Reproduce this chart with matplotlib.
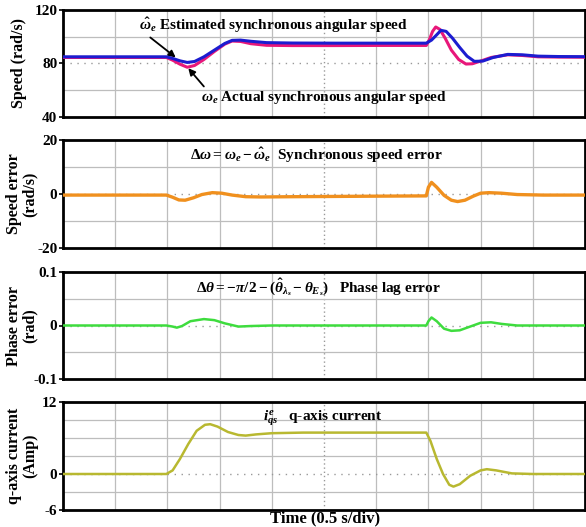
import matplotlib
matplotlib.use("Agg")
import matplotlib.pyplot as plt
import numpy as np

plt.rcParams['font.family'] = ['Liberation Serif', 'DejaVu Serif']
plt.rcParams['font.weight'] = 'bold'
plt.rcParams['mathtext.fontset'] = 'custom'
plt.rcParams['mathtext.rm'] = 'Liberation Serif:bold'
plt.rcParams['mathtext.it'] = 'Liberation Serif:italic:bold'
plt.rcParams['mathtext.bf'] = 'Liberation Serif:bold'

# ---- data (time in s, 0.5 s/div) ----
t_est = [0, 0.99, 1.05, 1.12, 1.19, 1.26, 1.35, 1.45, 1.55, 1.62, 1.70, 1.80, 1.95, 2.2, 2.6, 3.0,
         3.48, 3.53, 3.58, 3.62, 3.67, 3.73, 3.80, 3.87, 3.94, 4.02, 4.12, 4.26, 4.40, 4.55, 4.75, 5.0]
w_est = [85, 85, 83.8, 82, 80.8, 81.5, 85, 90, 95, 97.3, 97.5, 96.6, 95.6, 95.3, 95.2, 95.2,
         95.2, 97.5, 101.5, 104.8, 104, 99, 92, 85.5, 81.6, 81.8, 84.5, 86.8, 86.5, 85.5, 85.2, 85.1]

t_act = [0, 0.99, 1.05, 1.12, 1.19, 1.26, 1.35, 1.45, 1.55, 1.62, 1.70, 1.80, 1.95, 2.2, 2.6, 3.0,
         3.48, 3.51, 3.54, 3.57, 3.61, 3.66, 3.72, 3.79, 3.86, 3.92, 4.0, 4.1, 4.26, 4.40, 4.55, 4.75, 5.0]
w_act = [84.5, 84.5, 82.5, 79.5, 77.2, 78.5, 83, 89, 94.5, 96.8, 96.5, 94.8, 93.6, 93.4, 93.4, 93.5,
         93.5, 98, 104, 107.3, 105.5, 99, 90, 83, 79.6, 79.8, 81.8, 84.5, 86.5, 86, 85, 84.8, 84.7]

t_dw = [0, 0.99, 1.05, 1.11, 1.17, 1.25, 1.33, 1.43, 1.52, 1.62, 1.75, 1.9, 2.2, 2.6, 3.0,
        3.48, 3.50, 3.53, 3.58, 3.65, 3.72, 3.78, 3.85, 3.93, 4.0, 4.08, 4.2, 4.35, 4.6, 5.0]
dw = [-0.4, -0.4, -1.2, -2.2, -2.3, -1.4, -0.2, 0.5, 0.3, -0.4, -1.0, -1.1, -1.0, -0.9, -0.8,
      -0.7, 2.5, 4.3, 2.5, -0.5, -2.3, -2.8, -2.3, -0.8, 0.3, 0.5, 0.3, -0.2, -0.4, -0.4]

t_dth = [0, 0.99, 1.05, 1.09, 1.14, 1.22, 1.35, 1.45, 1.55, 1.68, 1.8, 2.0, 2.5, 3.0,
         3.48, 3.50, 3.53, 3.58, 3.65, 3.72, 3.80, 3.9, 4.0, 4.1, 4.2, 4.35, 4.6, 5.0]
dth = [0, 0, -0.002, -0.004, -0.001, 0.008, 0.012, 0.010, 0.004, -0.002, -0.001, 0, 0, 0,
       0, 0.008, 0.015, 0.008, -0.006, -0.010, -0.009, -0.002, 0.005, 0.006, 0.003, 0, 0, 0]

t_iq = [0, 0.99, 1.05, 1.12, 1.2, 1.28, 1.36, 1.41, 1.48, 1.58, 1.68, 1.75, 1.85, 2.0, 2.3, 3.0,
        3.48, 3.52, 3.58, 3.64, 3.70, 3.74, 3.80, 3.90, 4.0, 4.06, 4.15, 4.3, 4.5, 5.0]
iq = [0, 0, 0.6, 2.5, 5.0, 7.2, 8.2, 8.3, 7.9, 7.0, 6.5, 6.4, 6.6, 6.8, 6.9, 6.9,
      6.9, 5.5, 2.5, 0.0, -1.8, -2.1, -1.7, -0.3, 0.6, 0.8, 0.6, 0.1, 0.0, 0.0]

fig = plt.figure(figsize=(5.86, 5.27), dpi=100)

left, width = 63 / 586, 522 / 586
panels = [(10, 117), (140, 248), (272, 379), (402, 510)]
axes = []
for top, bot in panels:
    axes.append(fig.add_axes([left, 1 - bot / 527, width, (bot - top) / 527]))

# (ylim low, high, n_div, center, ticklabels)
specs = [
    (40, 120, 4, 80, ['40', '80', '120']),
    (-20, 20, 4, 0, ['-20', '0', '20']),
    (-0.1, 0.1, 4, 0, ['-0.1', '0', '0.1']),
    (-6, 12, 6, 0, ['-6', '0', '12']),
]
ylabels = ['Speed (rad/s)', 'Speed error\n(rad/s)', 'Phase error\n(rad)', 'q-axis current\n(Amp)']
ylabel_x = [19, 22, 22, 22]  # label centre, pixels from the left edge

for ax, (lo, hi, nd, c, lbls), yl, lx in zip(axes, specs, ylabels, ylabel_x):
    ax.set_xlim(0, 5)
    ax.set_ylim(lo, hi)
    ax.set_yticks([lo, c, hi])
    ax.set_yticklabels(lbls, fontsize=11, fontweight='bold')
    ax.set_xticks([])
    ax.tick_params(axis='y', length=3, width=1.2, pad=1)
    # scope graticule
    for xg in np.arange(0.5, 5.0, 0.5):
        if xg == 2.5:
            ax.axvline(xg, color='#999999', linestyle=(0, (1, 2)), linewidth=1.0, zorder=1)
        else:
            ax.axvline(xg, color='#bdbdbd', linewidth=0.9, zorder=1)
    for yg in np.linspace(lo, hi, nd + 1)[1:-1]:
        if np.isclose(yg, c):
            ax.axhline(yg, color='#999999', linestyle=(0, (1, 4)), linewidth=1.0, zorder=1)
        else:
            ax.axhline(yg, color='#bdbdbd', linewidth=0.9, zorder=1)
    for s in ax.spines.values():
        s.set_linewidth(2.0)
    ax.set_ylabel(yl, fontsize=11.5, fontweight='bold', linespacing=1.0,
                  va='center', ha='center')
    ax.yaxis.set_label_coords((lx - 63) / 522, 0.5)

ax1, ax2, ax3, ax4 = axes
ax1.plot(t_act, w_act, color='#e8177a', linewidth=2.2, zorder=3)
ax1.plot(t_est, w_est, color='#1c1cd0', linewidth=2.2, zorder=4)
ax2.plot(t_dw, dw, color='#f0901e', linewidth=2.4, zorder=3)
ax3.plot(t_dth, dth, color='#3edc3e', linewidth=1.8, zorder=3)
ax4.plot(t_iq, iq, color='#b8b830', linewidth=1.8, zorder=3)

ax1.annotate(r'$\hat{\omega}_e$ Estimated synchronous angular speed',
             xy=(1.08, 84.5), xytext=(0.145, 0.86), textcoords='axes fraction',
             fontsize=11, fontweight='bold', va='center', ha='left',
             arrowprops=dict(arrowstyle='-|>', color='black', lw=1.3,
                             shrinkA=0, shrinkB=0, mutation_scale=10,
                             relpos=(0.03, 0.0)))
ax1.annotate(r'$\omega_e$ Actual synchronous angular speed',
             xy=(1.2, 76.5), xytext=(0.265, 0.18), textcoords='axes fraction',
             fontsize=11, fontweight='bold', va='center', ha='left',
             arrowprops=dict(arrowstyle='-|>', color='black', lw=1.3,
                             shrinkA=0, shrinkB=0, mutation_scale=10,
                             relpos=(0.02, 1.0)))

ax2.text(0.485, 0.86, r'$\Delta\omega = \omega_e - \hat{\omega}_e$  Synchronous speed error',
         transform=ax2.transAxes, ha='center', va='center', fontsize=11, fontweight='bold')
ax3.text(0.49, 0.86, r'$\Delta\theta = -\pi/2 - (\hat{\theta}_{\lambda_s} - \theta_{E_s})$   Phase lag error',
         transform=ax3.transAxes, ha='center', va='center', fontsize=11, fontweight='bold')
ax4.text(0.383, 0.85, r'$i_{qs}^{e}$   q-axis current',
         transform=ax4.transAxes, ha='left', va='center', fontsize=11, fontweight='bold')

fig.text(325 / 586, 1 - 518 / 527, 'Time (0.5 s/div)', ha='center', va='center',
         fontsize=12, fontweight='bold')

fig.savefig('out.png', dpi=100)
